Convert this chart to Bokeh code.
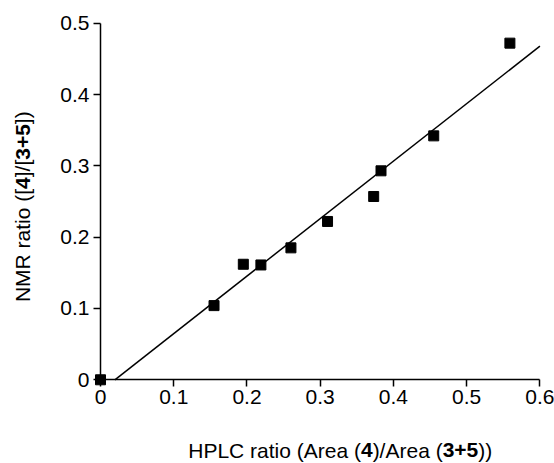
import math
from bokeh.plotting import figure
from bokeh.models import Range1d, FixedTicker, Label
from bokeh.embed import file_html
from bokeh.resources import INLINE

# ---- data ----
hplc_ratio = [0.0, 0.155, 0.195, 0.219, 0.260, 0.310, 0.373, 0.383, 0.455, 0.559]
nmr_ratio = [0.0, 0.104, 0.162, 0.161, 0.185, 0.222, 0.257, 0.293, 0.342, 0.472]
fit_slope = 0.806
fit_intercept = -0.0158
x_ticks = [0.0, 0.1, 0.2, 0.3, 0.4, 0.5, 0.6]
x_tick_labels = ["0", "0.1", "0.2", "0.3", "0.4", "0.5", "0.6"]
y_ticks = [0.0, 0.1, 0.2, 0.3, 0.4, 0.5]
y_tick_labels = ["0", "0.1", "0.2", "0.3", "0.4", "0.5"]
x_label_parts = [("HPLC ratio (Area (", False), ("4", True), (")/Area (", False), ("3+5", True), ("))", False)]
y_label_parts = [("NMR ratio ([", False), ("4", True), ("]/[", False), ("3+5", True), ("])", False)]

FONT = "Liberation Sans"
FS = 21

# Arial / Liberation Sans advance widths (per 1000 em)
W_REG = {" ": 278, "(": 333, ")": 333, "/": 278, "[": 278, "]": 278, "+": 584,
         "A": 667, "H": 722, "P": 667, "L": 556, "C": 722, "N": 722, "M": 833, "R": 722,
         "r": 333, "a": 556, "t": 278, "i": 222, "o": 556, "e": 556}
W_BOLD = {"+": 584}


def text_width(s, bold):
    tot = 0
    for ch in s:
        if ch.isdigit():
            tot += 556
        elif bold and ch in W_BOLD:
            tot += W_BOLD[ch]
        else:
            tot += W_REG.get(ch, 556)
    return tot * FS / 1000.0


# the frame covers the whole canvas, so that texts around the axes are not clipped
p = figure(width=554, height=463, output_backend="svg", toolbar_location=None,
           x_range=Range1d(-0.13656, 0.6199), y_range=Range1d(-0.11736, 0.5318),
           min_border=0)
p.outline_line_color = None
p.grid.visible = False
p.background_fill_color = "white"
p.border_fill_color = "white"

for ax, ticks, labels, bnds in ((p.xaxis[0], x_ticks, x_tick_labels, (0, 0.6)),
                                (p.yaxis[0], y_ticks, y_tick_labels, (0, 0.5))):
    ax.ticker = FixedTicker(ticks=ticks)
    ax.major_label_overrides = {t: l for t, l in zip(ticks, labels)}
    ax.fixed_location = 0
    ax.bounds = bnds
    ax.axis_line_color = "black"
    ax.axis_line_width = 1.5
    ax.major_tick_line_color = "black"
    ax.major_tick_line_width = 1.5
    ax.major_tick_out = 7
    ax.major_tick_in = 0
    ax.minor_tick_line_color = None
    ax.major_label_text_font = FONT
    ax.major_label_text_font_size = f"{FS}px"
    ax.major_label_text_color = "black"
p.xaxis[0].major_label_standoff = 3
p.yaxis[0].major_label_standoff = 4

# fit line
x0 = -fit_intercept / fit_slope
fit_x = [x0, x_ticks[-1]]
fit_y = [fit_slope * v + fit_intercept for v in fit_x]
p.line(fit_x, fit_y, line_color="black", line_width=1.5)

# data points
p.scatter(hplc_ratio, nmr_ratio, marker="square", size=10, fill_color="black", line_color="black")

# axis titles with bold parts
off = 0.0
for txt, bold in x_label_parts:
    p.add_layout(Label(x=0.1198, y=-0.0985, x_offset=off, text=txt, text_font=FONT,
                       text_font_size=f"{FS}px", text_font_style="bold" if bold else "normal",
                       text_color="black", text_baseline="alphabetic", text_align="left"))
    off += text_width(txt, bold)

off = 0.0
for txt, bold in y_label_parts:
    p.add_layout(Label(x=-0.1065, y=0.1089, y_offset=off, angle=math.pi / 2, text=txt, text_font=FONT,
                       text_font_size=f"{FS}px", text_font_style="bold" if bold else "normal",
                       text_color="black", text_baseline="alphabetic", text_align="left"))
    off += text_width(txt, bold)

open("out.html", "w").write(file_html(p, INLINE))
